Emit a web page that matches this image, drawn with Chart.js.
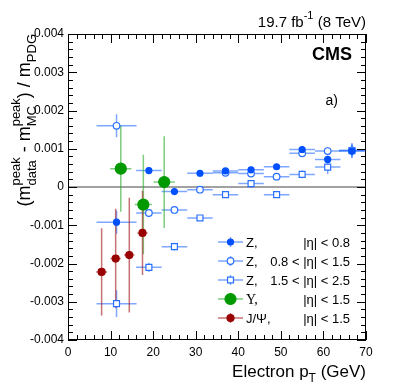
<!DOCTYPE html>
<html lang="en">
<head>
<meta charset="UTF-8">
<title>Electron energy scale vs pT</title>
<script src="https://cdn.jsdelivr.net/npm/chart.js"></script>
<style>
  body { margin: 0; background: #fff; }
  canvas { display: block; }
</style>
</head>
<body>
<canvas id="c" width="407" height="391"></canvas>
<script>
// Z -> ee, three eta ranges (same pT bins)
const zPt = [11.4, 19, 25, 31, 37, 43, 49, 55, 61, 66.7];
const zPtErr = [4.7, 3, 3, 3, 3, 3, 3, 3, 3, 3];
const zEta08 = [-0.00092, 0.00043, -0.00012, 0.00036, 0.00042, 0.00045, 0.00053, 0.00098, 0.00072, 0.00094];
const zEta08Err = [0.0003, 0.00008, 0.00006, 0.00005, 0.00005, 0.00005, 0.00006, 0.00007, 0.0001, 0.00017];
const zEta15 = [0.0016, -0.00068, -0.0006, -0.00007, 0.00037, 0.00035, 0.00027, 0.00088, 0.00094, 0.00096];
const zEta15Err = [0.0003, 0.0001, 0.00008, 0.00006, 0.00005, 0.00005, 0.00006, 0.00007, 0.0001, 0.00015];
const zEta25 = [-0.00305, -0.0021, -0.00156, -0.00081, -0.0002, 0.00009, -0.0002, 0.00033, 0.00052, 0.00095];
const zEta25Err = [0.00035, 0.00012, 0.0001, 0.00008, 0.00007, 0.00007, 0.00008, 0.0001, 0.00018, 0.0002];

// Upsilon
const upsPt = [12.4, 17.7, 22.6];
const upsPtErr = [2.5, 2, 2.5];
const upsVal = [0.00048, -0.00046, 0.00013];
const upsErr = [0.00113, 0.0013, 0.0012];

// J/Psi
const jpsiPt = [7.9, 11.2, 14.4, 17.5];
const jpsiPtErr = [1.3, 1.2, 1.2, 1.2];
const jpsiVal = [-0.00222, -0.00187, -0.00178, -0.0012];
const jpsiErr = [0.00114, 0.0013, 0.0015, 0.0011];

const FONT = '"Liberation Sans", Arial, sans-serif';

function pts(xs, xe, ys, ye) {
  return xs.map((x, i) => ({ x: x, y: ys[i], xe: xe[i], ye: ye[i] }));
}

const series = [
  { label: 'Z,', right: '|η| < 0.8', data: pts(zPt, zPtErr, zEta08, zEta08Err),
    style: 'circle', r: 3, fill: '#0050ff', stroke: '#0050ff', bar: 'rgba(40,110,255,0.6)' },
  { label: 'Z,', right: '0.8 < |η| < 1.5', data: pts(zPt, zPtErr, zEta15, zEta15Err),
    style: 'circle', r: 3.3, fill: '#fff', stroke: '#2a70ff', bar: 'rgba(40,110,255,0.6)' },
  { label: 'Z,', right: '1.5 < |η| < 2.5', data: pts(zPt, zPtErr, zEta25, zEta25Err),
    style: 'rect', r: 4.2, fill: '#fff', stroke: '#2a70ff', bar: 'rgba(40,110,255,0.6)' },
  { label: 'Υ,', right: '|η| < 1.5', data: pts(upsPt, upsPtErr, upsVal, upsErr),
    style: 'circle', r: 5.5, fill: '#009900', stroke: '#009900', bar: 'rgba(40,170,40,0.6)', serif: true },
  { label: 'J/Ψ,', right: '|η| < 1.5', data: pts(jpsiPt, jpsiPtErr, jpsiVal, jpsiErr),
    style: 'circle', r: 3.5, fill: '#990000', stroke: '#990000', bar: 'rgba(160,20,20,0.6)' }
];

function marker(ctx, s, x, y) {
  ctx.save();
  ctx.fillStyle = s.fill;
  ctx.strokeStyle = s.stroke;
  ctx.lineWidth = 1.2;
  ctx.beginPath();
  if (s.style === 'rect') {
    const h = s.r * Math.SQRT1_2;
    ctx.rect(x - h, y - h, 2 * h, 2 * h);
  } else {
    ctx.arc(x, y, s.r, 0, Math.PI * 2);
  }
  ctx.fill();
  ctx.stroke();
  ctx.restore();
}

// draws runs of text with sub/superscripts, returns total width
function richText(ctx, parts, x, y, size, draw) {
  let cx = x;
  parts.forEach(p => {
    ctx.font = size + 'px ' + FONT;
    let w = 0;
    if (p.t) {
      w = ctx.measureText(p.t).width;
      if (draw) ctx.fillText(p.t, cx, y);
    }
    ctx.font = Math.round(size * 0.72) + 'px ' + FONT;
    let ws = 0;
    if (p.sup) {
      ws = Math.max(ws, ctx.measureText(p.sup).width);
      if (draw) ctx.fillText(p.sup, cx + w, y - size * 0.55);
    }
    if (p.sub) {
      ws = Math.max(ws, ctx.measureText(p.sub).width);
      if (draw) ctx.fillText(p.sub, cx + w, y + size * 0.32);
    }
    cx += w + ws;
  });
  return cx - x;
}

const decorations = {
  id: 'decorations',
  beforeDatasetsDraw(chart) {
    const ctx = chart.ctx, xs = chart.scales.x, ys = chart.scales.y, a = chart.chartArea;
    ctx.save();
    // zero line
    ctx.strokeStyle = '#444';
    ctx.lineWidth = 1.2;
    ctx.beginPath();
    ctx.moveTo(a.left, ys.getPixelForValue(0));
    ctx.lineTo(a.right, ys.getPixelForValue(0));
    ctx.stroke();
    // error bars
    ctx.lineWidth = 1.5;
    series.forEach(s => {
      ctx.strokeStyle = s.bar;
      s.data.forEach(d => {
        const px = xs.getPixelForValue(d.x), py = ys.getPixelForValue(d.y);
        ctx.beginPath();
        ctx.moveTo(xs.getPixelForValue(d.x - d.xe), py);
        ctx.lineTo(xs.getPixelForValue(d.x + d.xe), py);
        ctx.moveTo(px, ys.getPixelForValue(d.y - d.ye));
        ctx.lineTo(px, ys.getPixelForValue(d.y + d.ye));
        ctx.stroke();
      });
    });
    ctx.restore();
  },
  afterDraw(chart) {
    const ctx = chart.ctx, xs = chart.scales.x, ys = chart.scales.y, a = chart.chartArea;
    ctx.save();
    // frame and inward ticks
    ctx.strokeStyle = '#000';
    ctx.lineWidth = 1;
    ctx.strokeRect(a.left + 0.5, a.top + 0.5, a.right - a.left - 1, a.bottom - a.top - 1);
    ctx.beginPath();
    for (let i = -20; i <= 20; i++) {
      const py = Math.round(ys.getPixelForValue(i * 0.0002)) + 0.5;
      const len = i % 5 === 0 ? 9 : 5;
      ctx.moveTo(a.left, py); ctx.lineTo(a.left + len, py);
      ctx.moveTo(a.right, py); ctx.lineTo(a.right - len, py);
    }
    for (let i = 0; i <= 35; i++) {
      const px = Math.round(xs.getPixelForValue(i * 2)) + 0.5;
      const len = i % 5 === 0 ? 9 : 5;
      ctx.moveTo(px, a.bottom); ctx.lineTo(px, a.bottom - len);
      ctx.moveTo(px, a.top); ctx.lineTo(px, a.top + len);
    }
    ctx.stroke();

    ctx.fillStyle = '#000';
    ctx.textBaseline = 'alphabetic';
    // lumi label
    const lumi = [{ t: '19.7 fb', sup: '-1' }, { t: ' (8 TeV)' }];
    const lw = richText(ctx, lumi, 0, 0, 15, false);
    richText(ctx, lumi, a.right - lw, 27, 15, true);
    // CMS
    ctx.font = 'bold 18px ' + FONT;
    ctx.textAlign = 'right';
    ctx.fillText('CMS', 352, 60);
    ctx.font = '14px ' + FONT;
    ctx.fillText('a)', 338, 105);
    ctx.textAlign = 'left';

    // x title
    const xt = [{ t: 'Electron p', sub: 'T' }, { t: ' (GeV)' }];
    const xw = richText(ctx, xt, 0, 0, 17, false);
    richText(ctx, xt, a.right - xw, 377, 17, true);

    // y title (rotated)
    const yt = [{ t: '(m', sup: 'peak', sub: 'data' }, { t: ' - m', sup: 'peak', sub: 'MC' },
                { t: ') / m', sub: 'PDG' }];
    const yw = richText(ctx, yt, 0, 0, 18, false);
    ctx.save();
    ctx.translate(30, a.top);
    ctx.rotate(-Math.PI / 2);
    richText(ctx, yt, -yw, 0, 18, true);
    ctx.restore();

    // legend
    const ly = [242, 261, 280, 299, 318];
    series.forEach((s, i) => {
      const y = ly[i];
      ctx.strokeStyle = s.bar;
      ctx.lineWidth = 1.5;
      ctx.beginPath();
      ctx.moveTo(218, y); ctx.lineTo(243, y);
      ctx.moveTo(230.5, y - 5); ctx.lineTo(230.5, y + 5);
      ctx.stroke();
      marker(ctx, s, 230.5, y);
      ctx.fillStyle = '#000';
      ctx.font = (s.serif ? '14px "Liberation Serif", serif' : '13px ' + FONT);
      ctx.textAlign = 'left';
      ctx.fillText(s.label, 246, y + 5);
      ctx.font = '13px ' + FONT;
      ctx.textAlign = 'right';
      ctx.fillText(s.right, 350, y + 5);
    });
    ctx.restore();
  }
};

new Chart(document.getElementById('c'), {
  type: 'scatter',
  data: {
    datasets: series.map(s => ({
      label: s.label + ' ' + s.right,
      data: s.data,
      pointStyle: s.style,
      pointRadius: s.r,
      pointBackgroundColor: s.fill,
      pointBorderColor: s.stroke,
      pointBorderWidth: 1.2,
      showLine: false
    }))
  },
  options: {
    responsive: false,
    devicePixelRatio: 1,
    animation: false,
    layout: { padding: { top: 34, right: 41, left: 0, bottom: 0 } },
    plugins: { legend: { display: false }, tooltip: { enabled: false } },
    scales: {
      x: {
        type: 'linear', min: 0, max: 70,
        ticks: { stepSize: 10, color: '#000', padding: 5, maxRotation: 0,
                 font: { family: FONT, size: 12 } },
        grid: { display: false, drawTicks: false },
        border: { display: false },
        afterFit(s) { s.height = 51; }
      },
      y: {
        type: 'linear', min: -0.004, max: 0.004,
        ticks: { stepSize: 0.001, color: '#000', padding: 4,
                 font: { family: FONT, size: 12 },
                 callback: v => String(Math.round(v * 1000) / 1000) },
        grid: { display: false, drawTicks: false },
        border: { display: false },
        afterFit(s) { s.width = 68; }
      }
    }
  },
  plugins: [decorations]
});
</script>
</body>
</html>
